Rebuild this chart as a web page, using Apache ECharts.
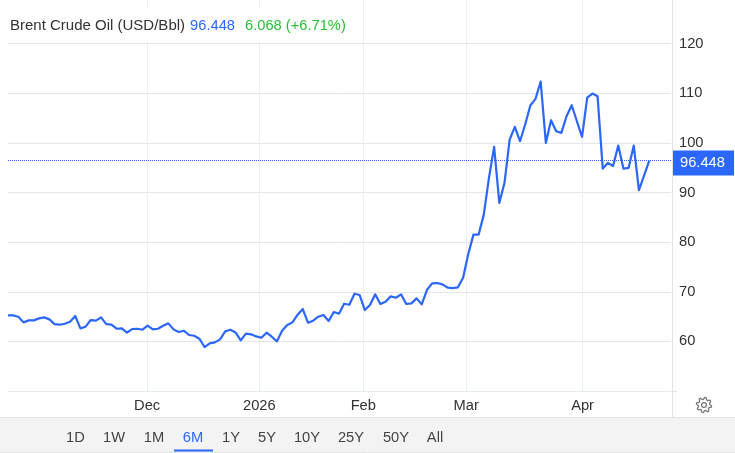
<!DOCTYPE html>
<html>
<head>
<meta charset="utf-8">
<style>html,body{margin:0;padding:0;background:#fff}#c{width:735px;height:453px}</style>
<script src="https://cdn.jsdelivr.net/npm/echarts@6/dist/echarts.min.js"></script>
</head>
<body>
<div id="c"></div>
<script>
const seriesName = 'Brent Crude Oil (USD/Bbl)';
const lastPrice = '96.448';
const changeText = '6.068 (+6.71%)';
const prices = [
65.24,65.24,64.97,63.83,64.23,64.23,64.64,64.84,64.44,63.49,
63.36,63.56,63.97,65.11,62.62,62.96,64.3,64.17,64.84,63.49,
63.36,62.55,62.62,61.75,62.49,62.55,62.35,63.16,62.42,62.55,
63.16,63.63,62.42,61.88,62.15,61.28,61.14,60.54,58.86,59.6,
59.8,60.4,62.02,62.35,61.81,60.2,61.55,61.42,61.0,60.74,
61.75,60.94,60.0,62.15,63.29,63.83,65.38,66.52,63.76,64.17,
64.97,65.31,64.1,65.91,65.58,67.59,67.39,69.61,69.34,66.32,
67.33,69.48,67.53,68.0,69.07,68.8,69.48,67.53,67.66,68.67,
67.46,70.35,71.69,71.76,71.49,70.82,70.75,70.89,72.84,77.6,
81.52,81.52,85.55,92.94,99.19,87.9,91.94,100.67,103.23,100.34,
103.7,107.53,108.87,112.37,100.0,104.57,102.35,102.02,105.38,107.59,
104.37,101.21,109.14,109.95,109.41,94.83,95.97,95.36,99.46,94.83,
94.96,99.46,90.46,93.45,96.448
];
const monthLabels = ['Dec','2026','Feb','Mar','Apr'];
const monthSessions = [26.9,48.6,68.7,88.6,111.1];
const rangeLabels = ['1D','1W','1M','6M','1Y','5Y','10Y','25Y','50Y','All'];
const rangeCenters = [75.5,114,154,193,231,267,307,351,396,435];
const activeRange = '6M';

const FONT = '"Liberation Sans", Arial, sans-serif';
const BLUE = '#2b67fb';
const FS = 14.7;

function gearPoints(cx, cy, ro, ri, teeth) {
  const pts = [];
  const n = teeth * 4;
  for (let k = 0; k < n; k++) {
    const a = (k + 0.5) / n * Math.PI * 2 - Math.PI / 2;
    const r = (k % 4 === 0 || k % 4 === 1) ? ro : ri;
    pts.push([cx + r * Math.cos(a), cy + r * Math.sin(a)]);
  }
  return pts;
}

const graphics = [
  { type:'rect', z:5, shape:{x:0,y:417,width:735,height:35}, style:{fill:'#f3f3f3'} },
  { type:'line', z:6, shape:{x1:0,y1:417.5,x2:735,y2:417.5}, style:{stroke:'#e3e3e3',lineWidth:1} },
  { type:'line', z:6, shape:{x1:0,y1:452.5,x2:735,y2:452.5}, style:{stroke:'#e3e3e3',lineWidth:1} },
  { type:'line', z:6, shape:{x1:672.5,y1:0,x2:672.5,y2:417}, style:{stroke:'#e3e3e3',lineWidth:1} },
  { type:'line', z:6, shape:{x1:672,y1:391.5,x2:677,y2:391.5}, style:{stroke:'#e3e3e3',lineWidth:1} },
  { type:'polygon', z:6, shape:{points:gearPoints(704,405,7.6,5.7,8)}, style:{fill:'none',stroke:'#7a7a7a',lineWidth:1.3} },
  { type:'circle', z:6, shape:{cx:704,cy:405,r:2.4}, style:{fill:'none',stroke:'#7a7a7a',lineWidth:1.3} },
  { type:'rect', z:7, shape:{x:174,y:449.5,width:39,height:2}, style:{fill:BLUE} }
];
rangeLabels.forEach((t, i) => graphics.push({
  type:'text', z:7, x:rangeCenters[i], y:438,
  style:{ text:t, fill: t === activeRange ? BLUE : '#444', font:FS + 'px ' + FONT, textAlign:'center', textVerticalAlign:'middle' }
}));

const chart = echarts.init(document.getElementById('c'), null, {renderer:'canvas'});
chart.setOption({
  animation:false,
  backgroundColor:'#fff',
  title:{
    left:8, top:9, padding:[8,2,6,2], backgroundColor:'#fff', z:8,
    text:'{a|' + seriesName + '} {b|' + lastPrice + '}  {c|' + changeText + '}',
    textStyle:{ fontWeight:'normal', rich:{
      a:{color:'#333',fontSize:15,fontFamily:FONT,fontWeight:'normal'},
      b:{color:BLUE,fontSize:FS,fontFamily:FONT,fontWeight:'normal'},
      c:{color:'#22c232',fontSize:FS,fontFamily:FONT,fontWeight:'normal'}
    }}
  },
  grid:{left:8,right:64,top:0,bottom:62},
  xAxis:{
    type:'value', min:0, max:128.2,
    axisLine:{show:true,lineStyle:{color:'#e6ebf1',width:1}},
    axisTick:{show:false,customValues:monthSessions},
    splitLine:{show:true,lineStyle:{color:'#e9eff5',width:1}},
    axisLabel:{
      customValues:monthSessions, margin:7, color:'#333', fontSize:FS, fontFamily:FONT,
      formatter:(v)=>monthLabels[monthSessions.indexOf(v)] || ''
    }
  },
  yAxis:{
    type:'value', position:'right', min:50, max:128.8, interval:10,
    axisLine:{show:false}, axisTick:{show:false},
    splitLine:{show:true,showMaxLine:false,lineStyle:{color:'#e6e6e6',width:1}},
    axisLabel:{margin:8,color:'#333',fontSize:FS,fontFamily:FONT,showMinLabel:false,showMaxLabel:false}
  },
  series:[{
    type:'line', name:seriesName, symbol:'none', smooth:false, clip:true,
    data:prices.map((v,i)=>[i,v]),
    lineStyle:{color:BLUE,width:2.2,join:'round'},
    markLine:{
      silent:true, symbol:'none', animation:false,
      lineStyle:{color:BLUE,type:'dotted',width:1},
      label:{
        show:true, position:'end', distance:1, formatter:lastPrice,
        color:'#fff', backgroundColor:BLUE, fontSize:FS, fontFamily:FONT,
        padding:[5,8,5,8], offset:[0,2.5], width:46
      },
      data:[{yAxis:parseFloat(lastPrice)}]
    }
  }],
  graphic:graphics
});
</script>
</body>
</html>
